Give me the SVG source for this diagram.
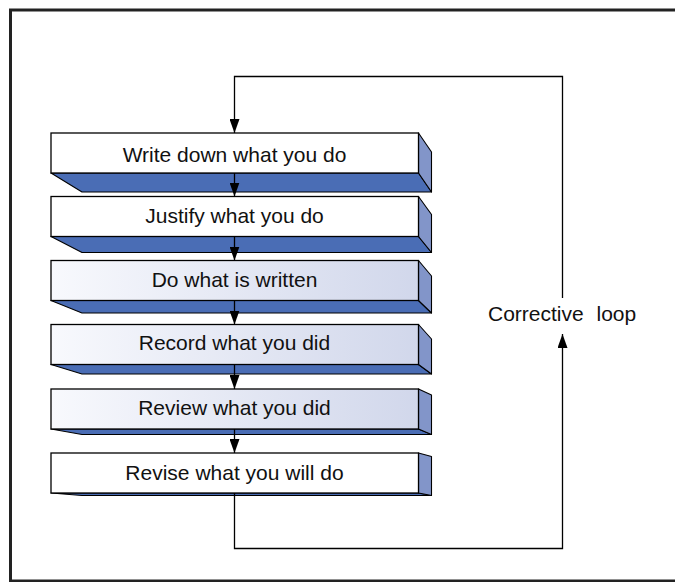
<svg xmlns="http://www.w3.org/2000/svg" width="675" height="582" viewBox="0 0 675 582">
<style>
.front{fill:#ffffff;stroke:#000;stroke-width:1.3}
.grad{fill:url(#g)}
.side{fill:#8295c9;stroke:#000;stroke-width:1.1;stroke-linejoin:round}
.bottom{fill:#4a6db5;stroke:#000;stroke-width:1.1;stroke-linejoin:round}
.lbl{font-family:"Liberation Sans",Arial,sans-serif;font-size:21px;fill:#111;text-anchor:middle}
.conn{fill:none;stroke:#000;stroke-width:1.3}
</style>
<defs>
<linearGradient id="g" x1="0" y1="0" x2="1" y2="0">
<stop offset="0" stop-color="#f8f9fd"/>
<stop offset="1" stop-color="#d1d7eb"/>
</linearGradient>
<marker id="ah" viewBox="0 0 14 10" refX="14" refY="5" markerWidth="14" markerHeight="10" markerUnits="userSpaceOnUse" orient="auto">
<path d="M0,0 L14,5 L0,10 z" fill="#000"/>
</marker>
</defs>
<rect x="10.5" y="10" width="700" height="571" fill="#fff" stroke="#222" stroke-width="3"/>

<g id="box1">
<polygon class="bottom" points="51,173 418.5,173 431.5,192 82,192"/>
<polygon class="side" points="418.5,133 431.5,152 431.5,192 418.5,173"/>
<rect class="front" x="51" y="133" width="367.5" height="40"/>
<text class="lbl" x="234.5" y="161.5">Write down what you do</text>
</g>
<g id="box2">
<polygon class="bottom" points="51,236.5 418.5,236.5 431.5,252.5 82,252.5"/>
<polygon class="side" points="418.5,196.5 431.5,214.5 431.5,252.5 418.5,236.5"/>
<rect class="front" x="51" y="196.5" width="367.5" height="40"/>
<text class="lbl" x="234.5" y="222.5">Justify what you do</text>
</g>
<g id="box3">
<polygon class="bottom" points="51,300.5 418.5,300.5 431.5,313 82,313"/>
<polygon class="side" points="418.5,260.5 431.5,276 431.5,313 418.5,300.5"/>
<rect class="front grad" x="51" y="260.5" width="367.5" height="40"/>
<text class="lbl" x="234.5" y="287">Do what is written</text>
</g>
<g id="box4">
<polygon class="bottom" points="51,364.5 418.5,364.5 431.5,374 82,374"/>
<polygon class="side" points="418.5,324.5 431.5,339 431.5,374 418.5,364.5"/>
<rect class="front grad" x="51" y="324.5" width="367.5" height="40"/>
<text class="lbl" x="234.5" y="350">Record what you did</text>
</g>
<g id="box5">
<polygon class="bottom" points="51,429 418.5,429 431.5,434.5 82,434.5"/>
<polygon class="side" points="418.5,389 431.5,395 431.5,434.5 418.5,429"/>
<rect class="front grad" x="51" y="389" width="367.5" height="40"/>
<text class="lbl" x="234.5" y="414.5">Review what you did</text>
</g>
<g id="box6">
<polygon class="bottom" points="51,493 418.5,493 431.5,495.5 82,495.5"/>
<polygon class="side" points="418.5,453 431.5,456.5 431.5,495.5 418.5,493"/>
<rect class="front" x="51" y="453" width="367.5" height="40"/>
<text class="lbl" x="234.5" y="479.5">Revise what you will do</text>
</g>

<g id="connectors">
<path class="conn" d="M562.5,298 V76.5 H234.5 V133" marker-end="url(#ah)"/>
<line class="conn" x1="234.5" y1="173" x2="234.5" y2="196.5" marker-end="url(#ah)"/>
<line class="conn" x1="234.5" y1="236.5" x2="234.5" y2="260.5" marker-end="url(#ah)"/>
<line class="conn" x1="234.5" y1="300.5" x2="234.5" y2="324.5" marker-end="url(#ah)"/>
<line class="conn" x1="234.5" y1="364.5" x2="234.5" y2="389" marker-end="url(#ah)"/>
<line class="conn" x1="234.5" y1="429" x2="234.5" y2="453" marker-end="url(#ah)"/>
<path class="conn" d="M234.5,493 V548.5 H562.5 V334" marker-end="url(#ah)"/>
</g>
<text id="loop-label" x="488" y="320.5" style="font-family:'Liberation Sans',Arial,sans-serif;font-size:21px;fill:#111" word-spacing="7">Corrective loop</text>
</svg>
